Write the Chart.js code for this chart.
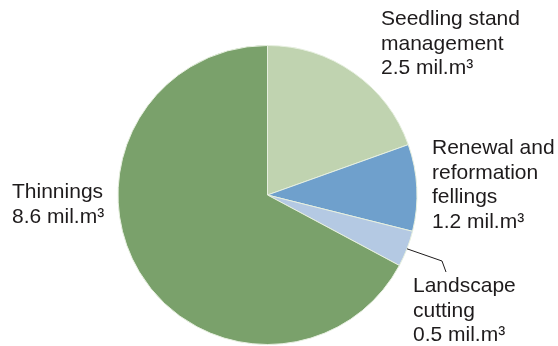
<!DOCTYPE html>
<html>
<head>
<meta charset="utf-8">
<script src="https://cdn.jsdelivr.net/npm/chart.js@4.4.0/dist/chart.umd.min.js"></script>
<style>
  html, body { margin: 0; padding: 0; background: #fff; }
  #wrap { width: 558px; height: 346px; position: relative; }
</style>
</head>
<body>
<div id="wrap"><canvas id="pie"></canvas></div>
<script>
// felling types, clockwise from 12 o'clock
const categories = [
  ["Seedling stand", "management"],
  ["Renewal and", "reformation", "fellings"],
  ["Landscape", "cutting"],
  ["Thinnings"]
];
const volumes = [2.5, 1.2, 0.5, 8.6];
const unit = "mil.m³";
const sliceColors = ["#c0d3b0", "#6fa0cc", "#b4c9e3", "#7aa16b"];

// where each label block starts (left x, first baseline)
const labelSpots = [
  { x: 381, y: 25 },
  { x: 432, y: 154 },
  { x: 413, y: 292 },
  { x: 12, y: 198 }
];
const lineGap = 24.5;

const labelPlugin = {
  id: "sliceLabels",
  afterDraw(chart) {
    const ctx = chart.ctx;
    const arcs = chart.getDatasetMeta(0).data;
    ctx.save();
    ctx.font = "21px 'Liberation Sans', Arial, sans-serif";
    ctx.fillStyle = "#1e1b1c";
    ctx.textBaseline = "alphabetic";
    ctx.textAlign = "left";
    categories.forEach((lines, i) => {
      const spot = labelSpots[i];
      const all = lines.concat([volumes[i].toFixed(1) + " " + unit]);
      all.forEach((t, k) => ctx.fillText(t, spot.x, spot.y + k * lineGap));
    });

    // leader line for the small landscape slice
    const a = arcs[2];
    const mid = (a.startAngle + a.endAngle) / 2;
    const sx = a.x + Math.cos(mid) * a.outerRadius;
    const sy = a.y + Math.sin(mid) * a.outerRadius;
    ctx.strokeStyle = "#1e1b1c";
    ctx.lineWidth = 1;
    ctx.beginPath();
    ctx.moveTo(sx, sy);
    ctx.lineTo(442, 261);
    ctx.lineTo(446, 272);
    ctx.stroke();
    ctx.restore();
  }
};

new Chart(document.getElementById("pie"), {
  type: "pie",
  data: {
    labels: categories.map((l) => l.join(" ")),
    datasets: [{
      data: volumes,
      backgroundColor: sliceColors,
      borderColor: "#e6efdf",
      borderWidth: 1
    }]
  },
  options: {
    responsive: true,
    maintainAspectRatio: false,
    animation: false,
    layout: { padding: { left: 117.5, right: 140.5, top: 45, bottom: 1 } },
    plugins: {
      legend: { display: false },
      tooltip: { enabled: false }
    }
  },
  plugins: [labelPlugin]
});
</script>
</body>
</html>
